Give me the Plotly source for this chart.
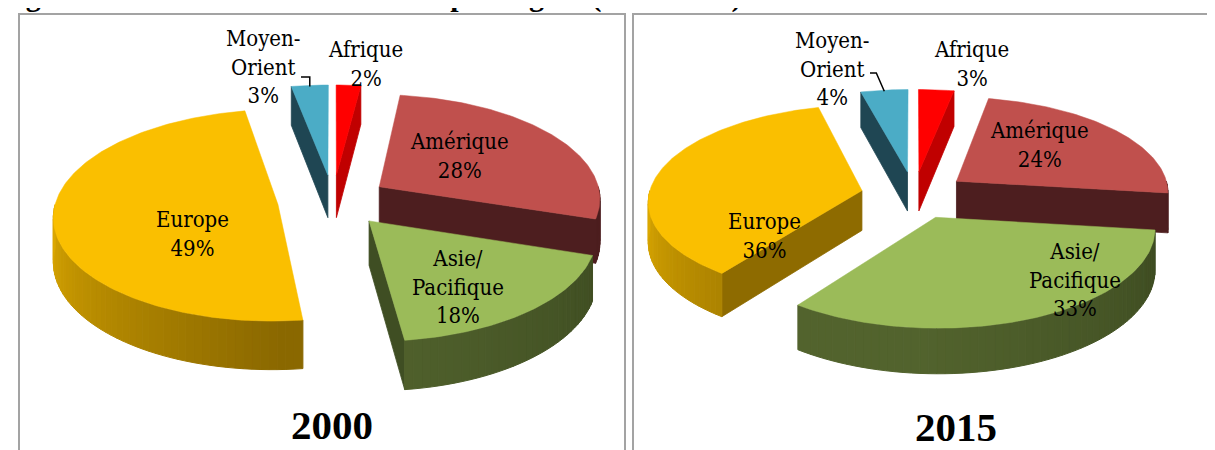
import numpy as np
import plotly.graph_objects as go

# ---------------- data ----------------
years = ["2000", "2015"]
regions = ["Afrique", "Amérique", "Asie/Pacifique", "Europe", "Moyen-Orient"]
label_names = ["Afrique", "Amérique", "Asie/<br>Pacifique", "Europe", "Moyen-<br>Orient"]
shares_2000 = [2, 28, 18, 49, 3]
shares_2015 = [3, 24, 33, 36, 4]
title_text = "Figure 1 : Les recettes du tourisme par région (2000-2015)"

# ---------------- styling / layout constants ----------------
W, H = 1215, 450
TOP_COL = {"Afrique": "#FF0000", "Amérique": "#C0504D", "Asie/Pacifique": "#9BBB59",
           "Europe": "#FABF00", "Moyen-Orient": "#4BACC6"}
CUT_COL = {"Afrique": "#C00000", "Amérique": "#4D1E1F", "Asie/Pacifique": "#3F4E23",
           "Europe": "#8E6B00", "Moyen-Orient": "#1F4653"}
# wall gradient: (angle, colour) anchors
WALL_COL = {"Afrique": ((90, "#C00000"), (270, "#C00000")),
            "Amérique": ((90, "#4D1E1F"), (180, "#4D1E1F")),
            "Asie/Pacifique": ((90, "#3B4920"), (185, "#52632D")),
            "Europe": ((270, "#DDA900"), (178, "#8A6800")),
            "Moyen-Orient": ((90, "#1F4653"), (270, "#1F4653"))}

# pie geometry in pixels: centre, horizontal/vertical radius, thickness,
# explode fraction, perspective strength
GEOM = {
    "2000": dict(cx=325, cy=192.5, a=222, b=104, depth=43.5, e=0.25, p=0.1),
    "2015": dict(cx=906, cy=187, a=213, b=95, depth=40, e=0.25, p=0.1),
}
LABEL_POS = {
    "2000": {"Afrique": (357, 56), "Amérique": (451, 148), "Asie/Pacifique": (450, 279),
             "Europe": (184, 226), "Moyen-Orient": (255, 59)},
    "2015": {"Afrique": (963, 56), "Amérique": (1031, 137), "Asie/Pacifique": (1067, 272),
             "Europe": (756, 228), "Moyen-Orient": (824, 61)},
}
# leader line for Moyen-Orient: start point (label side) and elbow offset
LEADER = {"2000": dict(x0=293, y0=69, dx=0), "2015": dict(x0=862, y0=65, dx=8)}
YEAR_POS = {"2000": (324, 417), "2015": (948, 419)}

LABEL_FONT = dict(family="DejaVu Serif Condensed, Liberation Serif, serif", size=22, color="#000000")


def hex2rgb(h):
    h = h.lstrip("#")
    return np.array([int(h[i:i + 2], 16) for i in (0, 2, 4)], dtype=float)


def lerp_col(anchors, ang):
    (a0, c0), (a1, c1) = anchors
    f = (ang - a0) / (a1 - a0) if a1 != a0 else 0.0
    f = min(max(f, 0.0), 1.0)
    c = hex2rgb(c0) * (1 - f) + hex2rgb(c1) * f
    return "rgb(%d,%d,%d)" % tuple(np.round(c).astype(int))


def poly_trace(xs, ys, color, lw=0.8):
    return go.Scatter(x=list(xs) + [xs[0]], y=list(ys) + [ys[0]], mode="lines",
                      fill="toself", fillcolor=color, line=dict(color=color, width=lw),
                      hoverinfo="skip", showlegend=False)


fig = go.Figure()
annotations = []

for year, shares in zip(years, [shares_2000, shares_2015]):
    g = GEOM[year]
    cx, cy, a, b, dep, e, p = g["cx"], g["cy"], g["a"], g["b"], g["depth"], g["e"], g["p"]
    total = float(sum(shares))
    bounds = np.concatenate([[0.0], np.cumsum(shares) / total * 360.0])

    def project(u, v, bottom=False):
        s = 1.0 / (1.0 + p * v)
        x = cx + a * u * s
        y = cy - b * v * s + (dep * s if bottom else 0.0)
        return x, y

    slices = []
    for i, reg in enumerate(regions):
        ts, te = bounds[i], bounds[i + 1]
        tm = 0.5 * (ts + te)
        ou = e * np.sin(np.radians(tm))
        ov = e * np.cos(np.radians(tm))

        def pt(th, r=1.0, bottom=False, ou=ou, ov=ov):
            t = np.radians(th)
            return project(ou + r * np.sin(t), ov + r * np.cos(t), bottom)

        cen = pt(tm, 0.5)
        slices.append(dict(reg=reg, ts=ts, te=te, tm=tm, pt=pt, key=cen[1]))

    slices.sort(key=lambda s: s["key"])

    # --- sides (cut faces + outer walls), back to front ---
    for s in slices:
        reg, ts, te, pt = s["reg"], s["ts"], s["te"], s["pt"]
        apex_t = pt(0, 0.0)
        apex_b = pt(0, 0.0, True)
        for th, nrm in ((ts, ts - 90), (te, te + 90)):
            if np.cos(np.radians(nrm)) < -1e-6:
                rt = pt(th)
                rb = pt(th, 1.0, True)
                fig.add_trace(poly_trace([apex_t[0], rt[0], rb[0], apex_b[0]],
                                         [apex_t[1], rt[1], rb[1], apex_b[1]], CUT_COL[reg]))
        lo, hi = max(ts, 90.0), min(te, 270.0)
        if hi > lo:
            n = max(2, int(np.ceil((hi - lo) / 2.0)) + 1)
            angs = np.linspace(lo, hi, n)
            for k in range(n - 1):
                t0, t1 = angs[k], angs[k + 1]
                p0, p1 = pt(t0), pt(t1)
                q0, q1 = pt(t0, 1.0, True), pt(t1, 1.0, True)
                col = lerp_col(WALL_COL[reg], 0.5 * (t0 + t1))
                fig.add_trace(poly_trace([p0[0], p1[0], q1[0], q0[0]],
                                         [p0[1], p1[1], q1[1], q0[1]], col, lw=1.0))

    # --- top faces ---
    for s in slices:
        reg, ts, te, pt = s["reg"], s["ts"], s["te"], s["pt"]
        n = max(2, int(np.ceil(te - ts)) + 1)
        angs = np.linspace(ts, te, n)
        apex = pt(0, 0.0)
        xs = [apex[0]] + [pt(t)[0] for t in angs]
        ys = [apex[1]] + [pt(t)[1] for t in angs]
        fig.add_trace(poly_trace(xs, ys, TOP_COL[reg], lw=0.5))

    # --- labels ---
    for reg, name, v in zip(regions, label_names, shares):
        lx, ly = LABEL_POS[year][reg]
        annotations.append(dict(x=lx, y=ly, xref="x", yref="y", text=f"{name}<br>{v}%",
                                showarrow=False, font=LABEL_FONT, align="center",
                                xanchor="center", yanchor="middle"))

    # leader line for Moyen-Orient
    mo = [s for s in slices if s["reg"] == "Moyen-Orient"][0]
    ex, ey = mo["pt"](mo["tm"])
    L = LEADER[year]
    fig.add_trace(go.Scatter(x=[L["x0"], ex - L["dx"], ex], y=[L["y0"], L["y0"], ey + 1],
                             mode="lines", line=dict(color="#000000", width=1.5),
                             hoverinfo="skip", showlegend=False))

    yx, yy = YEAR_POS[year]
    annotations.append(dict(x=yx, y=yy, xref="x", yref="y", text=f"<b>{year}</b>",
                            showarrow=False,
                            font=dict(family="Liberation Serif, serif", size=41, color="#000000"),
                            xanchor="center", yanchor="middle"))

# partially visible document caption at the very top (cut off, as in the source)
annotations.append(dict(x=0, y=7, xref="x", yref="y", xshift=-11, text=f"<b>{title_text}</b>",
                        showarrow=False, xanchor="left", yanchor="bottom",
                        font=dict(family="Liberation Serif, serif", size=30, color="#000000")))

shapes = [
    dict(type="rect", xref="x", yref="y", x0=11, y0=6, x1=617, y1=470,
         line=dict(color="#A3A3A3", width=2), fillcolor="rgba(0,0,0,0)", layer="below"),
    dict(type="rect", xref="x", yref="y", x0=625, y0=6, x1=1240, y1=470,
         line=dict(color="#A3A3A3", width=2), fillcolor="rgba(0,0,0,0)", layer="below"),
]

fig.update_layout(
    width=W, height=H, margin=dict(l=0, r=0, t=0, b=0),
    paper_bgcolor="white", plot_bgcolor="white", showlegend=False,
    xaxis=dict(range=[0, W], visible=False, fixedrange=True),
    yaxis=dict(range=[H, 0], visible=False, fixedrange=True),
    annotations=annotations, shapes=shapes,
)

fig.write_html("out.html")
